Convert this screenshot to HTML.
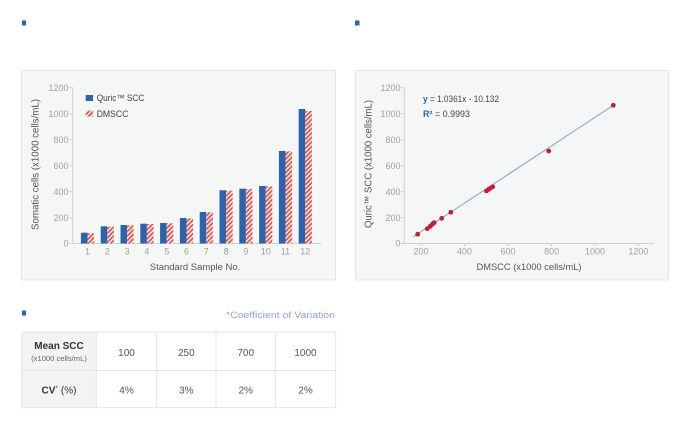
<!DOCTYPE html>
<html><head><meta charset="utf-8"><style>
html,body{margin:0;padding:0;background:#fff;}
svg{display:block;font-family:"Liberation Sans",Arial,sans-serif;}
</style></head><body>
<svg width="690" height="424" viewBox="0 0 690 424" xmlns="http://www.w3.org/2000/svg">
<defs>
<pattern id="hatch" patternUnits="userSpaceOnUse" width="3.2" height="3.2" patternTransform="rotate(45)">
<rect width="3.2" height="3.2" fill="#fbeeee"/>
<rect x="0" y="0" width="1.7" height="3.2" fill="#e0524e"/>
</pattern>
</defs>

<!-- header squares -->
<rect x="22" y="20.5" width="4" height="5" fill="#2b63ae"/>
<rect x="355" y="20.5" width="4.5" height="5" fill="#2b63ae"/>
<rect x="22" y="310.5" width="4" height="5" fill="#2b63ae"/>

<!-- ===== Bar chart panel ===== -->
<rect x="21.5" y="70.5" width="314" height="209.5" fill="#f5f6f6" stroke="#e4e5e5" stroke-width="1"/>
<g stroke="#cfcfcf" stroke-width="1">
<line x1="72.7" y1="87.5" x2="72.7" y2="243.5"/>
<line x1="72.7" y1="243.5" x2="321" y2="243.5"/>
<line x1="69.5" y1="87.7" x2="72.7" y2="87.7"/>
<line x1="69.5" y1="113.7" x2="72.7" y2="113.7"/>
<line x1="69.5" y1="139.7" x2="72.7" y2="139.7"/>
<line x1="69.5" y1="165.7" x2="72.7" y2="165.7"/>
<line x1="69.5" y1="191.7" x2="72.7" y2="191.7"/>
<line x1="69.5" y1="217.7" x2="72.7" y2="217.7"/>
<line x1="69.5" y1="243.5" x2="72.7" y2="243.5"/>
</g>
<g font-size="9" fill="#a0a0a0" text-anchor="end">
<text x="68.5" y="90.8">1200</text>
<text x="68.5" y="116.8">1000</text>
<text x="68.5" y="142.8">800</text>
<text x="68.5" y="168.8">600</text>
<text x="68.5" y="194.8">400</text>
<text x="68.5" y="220.8">200</text>
<text x="68.5" y="246.6">0</text>
</g>
<!-- bars -->
<g>
<rect x="80.9" y="232.7" width="6.6" height="10.8" fill="#2b63ae"/><rect x="87.5" y="233.3" width="6.6" height="10.2" fill="url(#hatch)"/>
<rect x="100.7" y="226.3" width="6.6" height="17.2" fill="#2b63ae"/><rect x="107.3" y="226.7" width="6.6" height="16.8" fill="url(#hatch)"/>
<rect x="120.5" y="225" width="6.6" height="18.5" fill="#2b63ae"/><rect x="127.1" y="225.3" width="6.6" height="18.2" fill="url(#hatch)"/>
<rect x="140.3" y="223.7" width="6.6" height="19.8" fill="#2b63ae"/><rect x="146.9" y="224" width="6.6" height="19.5" fill="url(#hatch)"/>
<rect x="160.1" y="223" width="6.6" height="20.5" fill="#2b63ae"/><rect x="166.7" y="223.3" width="6.6" height="20.2" fill="url(#hatch)"/>
<rect x="179.9" y="218" width="6.6" height="25.5" fill="#2b63ae"/><rect x="186.5" y="218.3" width="6.6" height="25.2" fill="url(#hatch)"/>
<rect x="199.7" y="212" width="6.6" height="31.5" fill="#2b63ae"/><rect x="206.3" y="212.3" width="6.6" height="31.2" fill="url(#hatch)"/>
<rect x="219.5" y="190.3" width="6.6" height="53.2" fill="#2b63ae"/><rect x="226.1" y="190.7" width="6.6" height="52.8" fill="url(#hatch)"/>
<rect x="239.3" y="188.7" width="6.6" height="54.8" fill="#2b63ae"/><rect x="245.9" y="189" width="6.6" height="54.5" fill="url(#hatch)"/>
<rect x="259.1" y="186" width="6.6" height="57.5" fill="#2b63ae"/><rect x="265.7" y="186.3" width="6.6" height="57.2" fill="url(#hatch)"/>
<rect x="278.9" y="151" width="6.6" height="92.5" fill="#2b63ae"/><rect x="285.5" y="151.3" width="6.6" height="92.2" fill="url(#hatch)"/>
<rect x="298.7" y="109" width="6.6" height="134.5" fill="#2b63ae"/><rect x="305.3" y="111" width="6.6" height="132.5" fill="url(#hatch)"/>
</g>
<g font-size="9" fill="#a0a0a0" text-anchor="middle">
<text x="87.5" y="254.5">1</text>
<text x="107.3" y="254.5">2</text>
<text x="127.1" y="254.5">3</text>
<text x="146.9" y="254.5">4</text>
<text x="166.7" y="254.5">5</text>
<text x="186.5" y="254.5">6</text>
<text x="206.3" y="254.5">7</text>
<text x="226.1" y="254.5">8</text>
<text x="245.9" y="254.5">9</text>
<text x="265.7" y="254.5">10</text>
<text x="285.5" y="254.5">11</text>
<text x="305.3" y="254.5">12</text>
</g>
<text x="195" y="270" font-size="9.6" fill="#555" text-anchor="middle" textLength="90.5" lengthAdjust="spacingAndGlyphs">Standard Sample No.</text>
<text transform="translate(38.5,164.5) rotate(-90)" font-size="9.8" fill="#555" text-anchor="middle" textLength="131" lengthAdjust="spacingAndGlyphs">Somatic cells (x1000 cells/mL)</text>
<!-- legend -->
<rect x="85.7" y="95" width="7.3" height="6" fill="#2b63ae"/>
<text x="96.7" y="101.2" font-size="9" fill="#444" textLength="47.6" lengthAdjust="spacingAndGlyphs">Quric™ SCC</text>
<rect x="85.7" y="110.6" width="7.3" height="6" fill="url(#hatch)"/>
<text x="96.7" y="116.8" font-size="9" fill="#444" textLength="31.7" lengthAdjust="spacingAndGlyphs">DMSCC</text>

<!-- ===== Scatter panel ===== -->
<rect x="355.5" y="70.5" width="313" height="209.5" fill="#f5f6f6" stroke="#e4e5e5" stroke-width="1"/>
<g stroke="#cfcfcf" stroke-width="1">
<line x1="404.3" y1="87.5" x2="404.3" y2="243.5"/>
<line x1="404.3" y1="243.5" x2="654.3" y2="243.5"/>
<line x1="401" y1="87.7" x2="404.3" y2="87.7"/>
<line x1="401" y1="113.7" x2="404.3" y2="113.7"/>
<line x1="401" y1="139.7" x2="404.3" y2="139.7"/>
<line x1="401" y1="165.7" x2="404.3" y2="165.7"/>
<line x1="401" y1="191.7" x2="404.3" y2="191.7"/>
<line x1="401" y1="217.7" x2="404.3" y2="217.7"/>
<line x1="401" y1="243.5" x2="404.3" y2="243.5"/>
<line x1="421" y1="243.5" x2="421" y2="246.5"/>
<line x1="464.4" y1="243.5" x2="464.4" y2="246.5"/>
<line x1="508" y1="243.5" x2="508" y2="246.5"/>
<line x1="551.6" y1="243.5" x2="551.6" y2="246.5"/>
<line x1="595" y1="243.5" x2="595" y2="246.5"/>
<line x1="638.4" y1="243.5" x2="638.4" y2="246.5"/>
</g>
<g font-size="9" fill="#a0a0a0" text-anchor="end">
<text x="400.5" y="90.8">1200</text>
<text x="400.5" y="116.8">1000</text>
<text x="400.5" y="142.8">800</text>
<text x="400.5" y="168.8">600</text>
<text x="400.5" y="194.8">400</text>
<text x="400.5" y="220.8">200</text>
<text x="400.5" y="246.6">0</text>
</g>
<g font-size="9" fill="#a0a0a0" text-anchor="middle">
<text x="421" y="254.5">200</text>
<text x="464.4" y="254.5">400</text>
<text x="508" y="254.5">600</text>
<text x="551.6" y="254.5">800</text>
<text x="595" y="254.5">1000</text>
<text x="638.4" y="254.5">1200</text>
</g>
<text x="529" y="270" font-size="9.6" fill="#555" text-anchor="middle" textLength="105" lengthAdjust="spacingAndGlyphs">DMSCC (x1000 cells/mL)</text>
<text transform="translate(371.5,164) rotate(-90)" font-size="9.8" fill="#555" text-anchor="middle" textLength="128" lengthAdjust="spacingAndGlyphs">Quric™ SCC (x1000 cells/mL)</text>
<line x1="413.3" y1="236.8" x2="613.3" y2="105.3" stroke="#7aa6d8" stroke-width="1"/>
<g fill="#c41e3a">
<circle cx="417.7" cy="234.2" r="2.4"/>
<circle cx="427.3" cy="228.7" r="2.4"/>
<circle cx="430.3" cy="226.3" r="2.4"/>
<circle cx="432.3" cy="224.3" r="2.4"/>
<circle cx="434.2" cy="222.7" r="2.4"/>
<circle cx="441.7" cy="218.3" r="2.4"/>
<circle cx="450.8" cy="212.3" r="2.4"/>
<circle cx="486.5" cy="190.9" r="2.4"/>
<circle cx="488.5" cy="189.4" r="2.4"/>
<circle cx="490" cy="188.6" r="2.4"/>
<circle cx="492.7" cy="186.8" r="2.4"/>
<circle cx="548.7" cy="151" r="2.4"/>
<circle cx="613.3" cy="105.3" r="2.4"/>
</g>
<text x="423" y="102" font-size="9" fill="#444" textLength="76" lengthAdjust="spacingAndGlyphs"><tspan fill="#2b63ae" font-weight="bold">y</tspan> = 1.0361x - 10.132</text>
<text x="423" y="117" font-size="9" fill="#444" textLength="47" lengthAdjust="spacingAndGlyphs"><tspan fill="#2b63ae" font-weight="bold">R²</tspan> = 0.9993</text>

<!-- ===== Table ===== -->
<text x="335" y="318.2" font-size="9" fill="#8fa2d8" text-anchor="end" textLength="109" lengthAdjust="spacingAndGlyphs">*Coefficient of Variation</text>
<rect x="21.7" y="332" width="74.6" height="75.7" fill="#f2f3f3"/>
<rect x="96.3" y="332" width="239.4" height="75.7" fill="#ffffff"/>
<g stroke="#e3e4e4" stroke-width="1" fill="none">
<rect x="21.7" y="332" width="314" height="75.7"/>
<line x1="21.7" y1="370.5" x2="335.7" y2="370.5"/>
<line x1="96.3" y1="332" x2="96.3" y2="407.7"/>
<line x1="156.7" y1="332" x2="156.7" y2="407.7"/>
<line x1="216" y1="332" x2="216" y2="407.7"/>
<line x1="275.3" y1="332" x2="275.3" y2="407.7"/>
</g>
<text x="59" y="348.8" font-size="10" font-weight="bold" fill="#333" text-anchor="middle">Mean SCC</text>
<text x="59" y="361" font-size="7.6" fill="#666" text-anchor="middle">(x1000 cells/mL)</text>
<text x="59" y="393.3" font-size="10" fill="#333" text-anchor="middle"><tspan font-weight="bold">CV</tspan><tspan fill="#2b63ae" font-size="7" dy="-3">*</tspan><tspan dy="3"> (%)</tspan></text>
<g font-size="10" fill="#555" text-anchor="middle">
<text x="126.5" y="356.2">100</text>
<text x="186.3" y="356.2">250</text>
<text x="245.7" y="356.2">700</text>
<text x="305.5" y="356.2">1000</text>
<text x="126.5" y="393.5">4%</text>
<text x="186.3" y="393.5">3%</text>
<text x="245.7" y="393.5">2%</text>
<text x="305.5" y="393.5">2%</text>
</g>
</svg>
</body></html>
